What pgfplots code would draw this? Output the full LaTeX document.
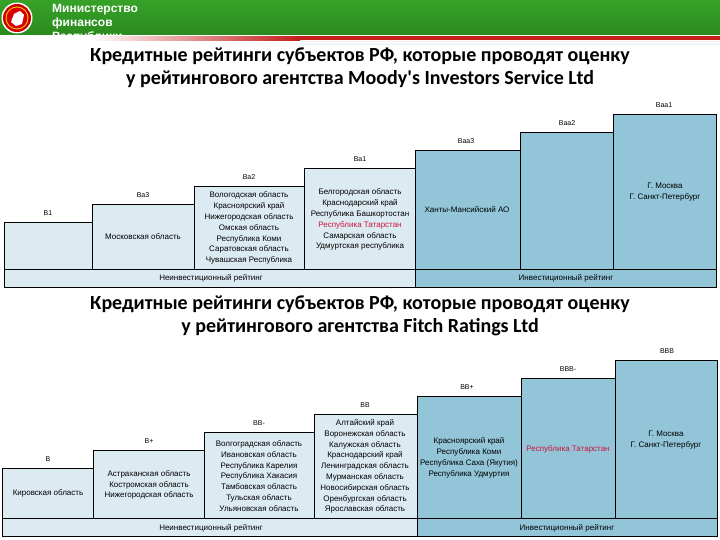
\documentclass[border=0pt]{standalone}
\usepackage{pgfplots}
\pgfplotsset{compat=1.18}
\usepackage{fontspec}
\setmainfont{Liberation Sans}
\newfontfamily\titlefont{Carlito}
\definecolor{lightcell}{HTML}{DCEBF2}
\definecolor{darkcell}{HTML}{92C5D8}
\definecolor{redtxt}{HTML}{D0143C}
\definecolor{gtop}{HTML}{36A228}
\definecolor{gmid}{HTML}{4CC83A}
\definecolor{gbot}{HTML}{2B8A1E}
\definecolor{stripe}{HTML}{C21E1A}
\tikzset{
  cell/.style={font={\fontsize{8}{10.8}\selectfont}, align=center, inner sep=0pt},
  rlab/.style={font={\fontsize{7}{8}\selectfont}, inner sep=0pt},
  ttl/.style={font={\titlefont\bfseries\fontsize{20}{23}\selectfont}, align=center, inner sep=0pt},
}
\begin{document}
\begin{tikzpicture}
\begin{axis}[name=ax, width=720pt, height=540pt, scale only axis,
  xmin=0, xmax=720, ymin=0, ymax=540, y dir=reverse, hide axis, clip=false]

% ---------- header ----------
\shade[top color=gtop, middle color=gmid, bottom color=gbot] (axis cs:0,0) rectangle (axis cs:720,35);
\node[anchor=north west, align=left, text=white, inner sep=0pt,
  font={\bfseries\fontsize{12}{13.8}\selectfont}] at (axis cs:52,4) {Министерство\\финансов\\Республики};
\fill[white] (axis cs:0,39.5) rectangle (axis cs:720,48);
\shade[left color=white, right color=stripe] (axis cs:90,36.5) rectangle (axis cs:300,40.5);
\fill[stripe] (axis cs:300,36.5) rectangle (axis cs:720,40.5);
\fill[red!8] (axis cs:300,41) rectangle (axis cs:720,42.5);
\fill[cyan!8] (axis cs:300,43) rectangle (axis cs:720,45);
\fill[white] (axis cs:17,18) circle[radius=15.5pt];
\fill[red!80!black] (axis cs:17,18) circle[radius=14pt];
\fill[yellow!70!orange] (axis cs:17,18) circle[radius=11.5pt];
\fill[red!85!black] (axis cs:17,18) circle[radius=10.5pt];
\fill[white] (axis cs:11,22) -- (axis cs:14,14) -- (axis cs:20,11) -- (axis cs:24,15) -- (axis cs:22,24) -- (axis cs:16,26) -- cycle;

% ---------- titles ----------
\node[ttl] at (axis cs:360,68) {Кредитные рейтинги субъектов РФ, которые проводят оценку\\у рейтингового агентства Moody's Investors Service Ltd};
\node[ttl] at (axis cs:360,315.5) {Кредитные рейтинги субъектов РФ, которые проводят оценку\\у рейтингового агентства Fitch Ratings Ltd};

% ---------- Moody's bars (x0,x1,top; base 269) ----------
\addplot[fill=lightcell, draw=black, line width=0.7pt] coordinates {(4,269) (4,222) (92,222) (92,269)} -- cycle;
\addplot[fill=lightcell, draw=black, line width=0.7pt] coordinates {(92,269) (92,204) (194,204) (194,269)} -- cycle;
\addplot[fill=lightcell, draw=black, line width=0.7pt] coordinates {(194,269) (194,186) (304,186) (304,269)} -- cycle;
\addplot[fill=lightcell, draw=black, line width=0.7pt] coordinates {(304,269) (304,168) (415,168) (415,269)} -- cycle;
\addplot[fill=darkcell, draw=black, line width=0.7pt] coordinates {(415,269) (415,150) (520,150) (520,269)} -- cycle;
\addplot[fill=darkcell, draw=black, line width=0.7pt] coordinates {(520,269) (520,132) (613,132) (613,269)} -- cycle;
\addplot[fill=darkcell, draw=black, line width=0.7pt] coordinates {(613,269) (613,114) (716,114) (716,269)} -- cycle;
\addplot[fill=lightcell, draw=black, line width=0.7pt] coordinates {(4,287) (4,269) (415,269) (415,287)} -- cycle;
\addplot[fill=darkcell, draw=black, line width=0.7pt] coordinates {(415,287) (415,269) (716,269) (716,287)} -- cycle;

\node[rlab] at (axis cs:48,213) {B1};
\node[rlab] at (axis cs:143,195) {Ba3};
\node[rlab] at (axis cs:249,177) {Ba2};
\node[rlab] at (axis cs:360,159) {Ba1};
\node[rlab] at (axis cs:466,141) {Baa3};
\node[rlab] at (axis cs:567,123) {Baa2};
\node[rlab] at (axis cs:664,105) {Baa1};

\node[cell] at (axis cs:143,237) {Московская область};
\node[cell] at (axis cs:249,228.2) {Вологодская область\\Красноярский край\\Нижегородская область\\Омская область\\Республика Коми\\Саратовская область\\Чувашская Республика};
\node[cell] at (axis cs:360,219.7) {Белгородская область\\Краснодарский край\\Республика Башкортостан\\\textcolor{redtxt}{Республика Татарстан}\\Самарская область\\Удмуртская республика};
\node[cell] at (axis cs:467,210) {Ханты-Мансийский АО};
\node[cell] at (axis cs:665,192) {Г. Москва\\Г. Санкт-Петербург};
\node[cell] at (axis cs:211,278) {Неинвестиционный рейтинг};
\node[cell] at (axis cs:566,278) {Инвестиционный рейтинг};

% ---------- Fitch bars (base 518) ----------
\addplot[fill=lightcell, draw=black, line width=0.7pt] coordinates {(2,518) (2,468) (93,468) (93,518)} -- cycle;
\addplot[fill=lightcell, draw=black, line width=0.7pt] coordinates {(93,518) (93,450) (204,450) (204,518)} -- cycle;
\addplot[fill=lightcell, draw=black, line width=0.7pt] coordinates {(204,518) (204,432) (314,432) (314,518)} -- cycle;
\addplot[fill=lightcell, draw=black, line width=0.7pt] coordinates {(314,518) (314,414) (417,414) (417,518)} -- cycle;
\addplot[fill=darkcell, draw=black, line width=0.7pt] coordinates {(417,518) (417,396) (521,396) (521,518)} -- cycle;
\addplot[fill=darkcell, draw=black, line width=0.7pt] coordinates {(521,518) (521,378) (615,378) (615,518)} -- cycle;
\addplot[fill=darkcell, draw=black, line width=0.7pt] coordinates {(615,518) (615,360) (717,360) (717,518)} -- cycle;
\addplot[fill=lightcell, draw=black, line width=0.7pt] coordinates {(2,536) (2,518) (417,518) (417,536)} -- cycle;
\addplot[fill=darkcell, draw=black, line width=0.7pt] coordinates {(417,536) (417,518) (717,518) (717,536)} -- cycle;

\node[rlab] at (axis cs:48,459) {B};
\node[rlab] at (axis cs:149,441) {B+};
\node[rlab] at (axis cs:259,423) {BB-};
\node[rlab] at (axis cs:365,405) {BB};
\node[rlab] at (axis cs:467,387) {BB+};
\node[rlab] at (axis cs:568,369) {BBB-};
\node[rlab] at (axis cs:667,351) {BBB};

\node[cell] at (axis cs:48,493) {Кировская область};
\node[cell] at (axis cs:149,485) {Астраханская область\\Костромская область\\Нижегородская область};
\node[cell] at (axis cs:259,476) {Волгоградская область\\Ивановская область\\Республика Карелия\\Республика Хакасия\\Тамбовская область\\Тульская область\\Ульяновская область};
\node[cell] at (axis cs:365,466.5) {Алтайский край\\Воронежская область\\Калужская область\\Краснодарский край\\Ленинградская область\\Мурманская область\\Новосибирская область\\Оренбургская область\\Ярославская область};
\node[cell] at (axis cs:469,457.7) {Красноярский край\\Республика Коми\\Республика Саха (Якутия)\\Республика Удмуртия};
\node[cell, text=redtxt] at (axis cs:568,449) {Республика Татарстан};
\node[cell] at (axis cs:666,439.7) {Г. Москва\\Г. Санкт-Петербург};
\node[cell] at (axis cs:211,528) {Неинвестиционный рейтинг};
\node[cell] at (axis cs:567,528) {Инвестиционный рейтинг};
\end{axis}
\pgfresetboundingbox
\path[use as bounding box] (ax.south west) rectangle (ax.north east);
\end{tikzpicture}
\end{document}
